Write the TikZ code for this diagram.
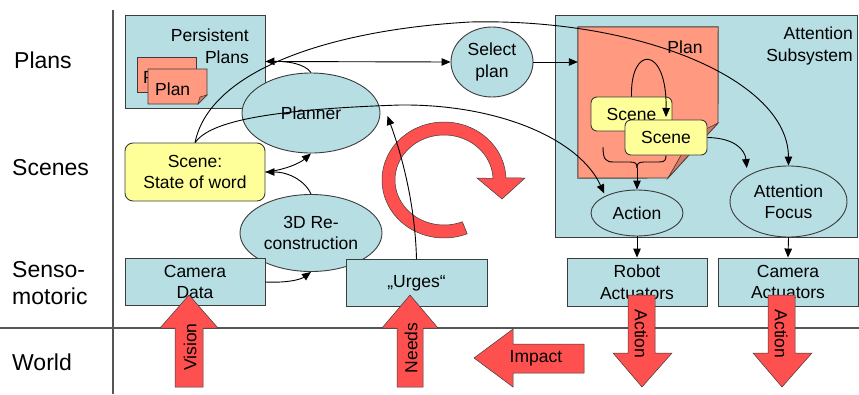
\documentclass[tikz,border=0pt]{standalone}
\usepackage{fontspec}
\setmainfont{Liberation Sans}
\usetikzlibrary{shapes.geometric,arrows.meta}
\definecolor{linec}{RGB}{60,60,60}
\definecolor{sepc}{RGB}{85,85,85}
\definecolor{tealc}{RGB}{183,222,227}
\definecolor{yellowc}{RGB}{255,255,153}
\definecolor{salmonc}{RGB}{255,153,128}
\definecolor{salmond}{RGB}{214,122,100}
\definecolor{redc}{RGB}{255,80,80}
\begin{document}
\begin{tikzpicture}[x=1pt,y=-1pt,
  nfont/.style={font=\fontsize{17.5}{21.5}\selectfont},
  lbl/.style={font=\fontsize{23}{27}\selectfont, inner sep=0pt},
  bx/.style={rectangle, draw=linec, fill=tealc, line width=0.9pt, inner sep=0pt, align=center, nfont},
  ell/.style={ellipse, draw=linec, fill=tealc, line width=0.9pt, inner sep=0pt, align=center, nfont},
  scn/.style={rectangle, rounded corners=6pt, draw=linec, fill=yellowc, line width=0.9pt, inner sep=0pt, align=center, nfont},
  conn/.style={-{Triangle[length=9pt,width=7.5pt]}, line width=0.9pt, black},
  thinline/.style={line width=0.9pt, black},
  sepline/.style={draw=sepc, line width=1.5pt},
  pagef/.style={fill=salmonc, draw=linec, line width=0.9pt},
  redarr/.style={fill=redc, draw=linec, line width=0.5pt},
  txt/.style={nfont, inner sep=0pt}]
\useasboundingbox (0,0) rectangle (859,394);
% separators
\draw[sepline] (113,10) -- (113,394);
\draw[sepline] (0,328) -- (859,328);
% row labels
\node[lbl, anchor=west] (lplans) at (14,60) {Plans};
\node[lbl, anchor=west] (lscenes) at (12,168) {Scenes};
\node[lbl, anchor=west, align=left] (lsenso) at (12,283) {Senso-\\motoric};
\node[lbl, anchor=west] (lworld) at (12,362) {World};

% Persistent plans
\node[bx, minimum width=140pt, minimum height=93pt] (ppl) at (195,61.5) {};
\node[txt, align=right, anchor=east] (ppltext) at (249,46) {Persistent\\Plans};
\filldraw[pagef] (137,57) rectangle (196,92);
\node[txt, anchor=base west] (pbt) at (143,83) {P};
\filldraw[pagef] (148,69) -- (207,69) -- (207,95) -- (198,104) -- (148,104) -- cycle;
\filldraw[fill=salmond, draw=linec, line width=0.6pt] (207,95) -- (198,104) -- (200,97) -- cycle;
\node[txt, anchor=base west] (pft) at (155,95) {Plan};

% Attention subsystem
\node[bx, minimum width=302pt, minimum height=222pt] (att) at (706,126) {};
\node[txt, align=right, anchor=east] (atttext) at (853,46) {Attention\\Subsystem};
\node[minimum width=140pt, minimum height=151pt, inner sep=0pt] (plan) at (648,102.5) {};
\filldraw[pagef] (plan.north west) -- (plan.north east) -- (718,123) -- (668,178) -- (plan.south west) -- cycle;
\filldraw[fill=salmond, draw=linec, line width=0.6pt] (718,123) -- (668,178) -- (692,136) -- cycle;
\node[txt] (plantext) at (685,47) {Plan};

% red cycle
\filldraw[redarr] plot[domain=2:292, samples=90] ({444+62*cos(\x)},{180-58*sin(\x)})
  -- plot[domain=292:2, samples=90] ({444+49*cos(\x)},{180-45*sin(\x)})
  -- (477,178) -- (502,199) -- (525,178) -- cycle;

% nodes
\node[ell, minimum width=82pt, minimum height=70pt] (sel) at (492,62) {Select\\plan};
\node[ell, minimum width=138pt, minimum height=80pt] (planner) at (311,113) {Planner};
\node[scn, minimum width=140pt, minimum height=58pt, rounded corners=8pt] (sow) at (195,172) {Scene:\\State of word};
\node[ell, minimum width=142pt, minimum height=77pt] (recon) at (311,233) {3D Re-\\construction};
\node[bx, minimum width=140pt, minimum height=47pt] (cam) at (195,282) {Camera\\Data};
\node[bx, minimum width=141pt, minimum height=47pt] (urges) at (416.5,283) {„Urges“};
\node[scn, minimum width=81pt, minimum height=34pt] (sc1) at (631.5,114) {Scene};
\node[scn, minimum width=82pt, minimum height=35pt] (sc2) at (666,137.5) {Scene};
\node[ell, minimum width=92pt, minimum height=46pt] (action) at (637,213) {Action};
\node[ell, minimum width=117pt, minimum height=71pt] (focus) at (788.5,201.5) {Attention\\Focus};
\node[bx, minimum width=140pt, minimum height=48pt] (robot) at (637,282) {Robot\\Actuators};
\node[bx, minimum width=140pt, minimum height=48pt] (camact) at (788,282) {Camera\\Actuators};

% connectors
\coordinate (arctop) at (470,22);
\coordinate (midpt) at (400,105);
\coordinate (loopend) at (666,117);
\coordinate (brL) at (603,147);
\coordinate (brM) at (637,168);
\draw[conn] (ppl.east) -- (sel.west);
\draw[conn] (planner.north) .. controls (305,64) and (288,61) .. (ppl.east);
\draw[conn] (sel.east) -- (sel.east -| plan.west);
\draw[conn] (sow.north) .. controls (210,70) and (330,30) .. (arctop) .. controls (640,18) and (788,80) .. (focus.north);
\draw[conn] (sow.north) .. controls (208,125) and (250,110) .. (midpt) .. controls (500,104) and (580,140) .. ([yshift=3pt]action.north west);
\draw[conn] (recon.north) .. controls (306,182) and (290,172) .. (sow.east);
\draw[conn] (sow.east) .. controls (285,170) and (300,163) .. (planner.south);
\draw[conn] (cam.east) .. controls (285,283) and (300,280) .. (recon.south);
\draw[conn] (urges.north) .. controls (415,200) and (400,150) .. ([xshift=7pt,yshift=-3pt]planner.east);
\draw[conn] (sc2.east) .. controls (735,138) and (745,150) .. ([yshift=8pt]focus.north west);
\draw[conn] (sc1.north) .. controls (630,45) and (667,45) .. (loopend);
\draw[thinline] (brL) .. controls (603,160) and (606,162) .. (614,162) -- (630,162) .. controls (636,162) and (637,164) .. (brM);
\draw[thinline] (sc2.south) .. controls (666,160) and (665,162) .. (659,162) -- (644,162) .. controls (638,162) and (637,164) .. (brM);
\draw[conn] (brM) -- (action.north);
\draw[conn] (action.south) -- (robot.north);
\draw[conn] (focus.south) -- (camact.north);

% red block arrows
\filldraw[redarr] (175,387) -- (175,328) -- (160,328) -- (189,295) -- (218,328) -- (203,328) -- (203,387) -- cycle;
\node[txt, rotate=90] (vision) at (190,347) {Vision};
\filldraw[redarr] (397,387) -- (397,328) -- (382,328) -- (410,295) -- (438,328) -- (423,328) -- (423,387) -- cycle;
\node[txt, rotate=90] (needs) at (411,348) {Needs};
\filldraw[redarr] (628,295) -- (655,295) -- (655,353) -- (672,353) -- (642,387) -- (613,353) -- (628,353) -- cycle;
\node[txt, rotate=-90] (act1) at (641,334) {Action};
\filldraw[redarr] (768,295) -- (795,295) -- (795,353) -- (812,353) -- (782,387) -- (753,353) -- (768,353) -- cycle;
\node[txt, rotate=-90] (act2) at (781,334) {Action};
\filldraw[redarr] (584,344) -- (513,344) -- (513,329) -- (474,358) -- (513,387) -- (513,373) -- (584,373) -- cycle;
\node[txt] (impact) at (536,358) {Impact};
\end{tikzpicture}
\end{document}
